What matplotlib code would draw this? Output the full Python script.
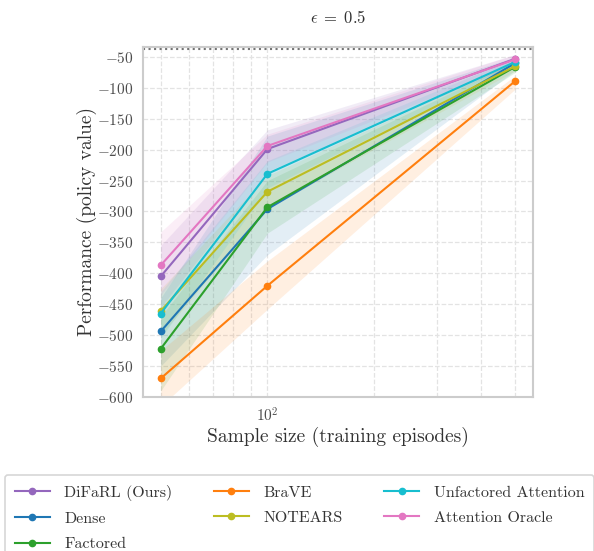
import matplotlib
matplotlib.use("Agg")
import matplotlib.pyplot as plt
import numpy as np

plt.rcParams['font.family'] = 'serif'
plt.rcParams['font.serif'] = ['cmr10', 'DejaVu Serif']
plt.rcParams['mathtext.fontset'] = 'cm'
plt.rcParams['axes.formatter.use_mathtext'] = True
plt.rcParams['axes.unicode_minus'] = True

# sample sizes (training episodes)
sizes = [50, 100, 500]
oracle_value = -38

names = ['DiFaRL (Ours)', 'Dense', 'Factored', 'BraVE', 'NOTEARS',
         'Unfactored Attention', 'Attention Oracle']
colors = ['#9467bd', '#1f77b4', '#2ca02c', '#ff7f0e', '#bcbd22', '#17becf', '#e377c2']

means = {
    'DiFaRL (Ours)':        [-405, -199, -53],
    'Dense':                [-494, -296, -60],
    'Factored':             [-522, -293, -66],
    'BraVE':                [-570, -420, -89],
    'NOTEARS':              [-461, -268, -65],
    'Unfactored Attention': [-465, -239, -58],
    'Attention Oracle':     [-387, -194, -54],
}
lower = {
    'DiFaRL (Ours)':        [-455, -235, -62],
    'Dense':                [-550, -370, -72],
    'Factored':             [-590, -335, -75],
    'BraVE':                [-615, -458, -102],
    'NOTEARS':              [-500, -295, -72],
    'Unfactored Attention': [-505, -262, -64],
    'Attention Oracle':     [-435, -220, -62],
}
upper = {
    'DiFaRL (Ours)':        [-355, -168, -46],
    'Dense':                [-440, -178, -50],
    'Factored':             [-470, -250, -58],
    'BraVE':                [-525, -380, -80],
    'NOTEARS':              [-425, -242, -58],
    'Unfactored Attention': [-430, -218, -52],
    'Attention Oracle':     [-333, -175, -46],
}

fig = plt.figure(figsize=(5.94, 5.51), dpi=100)
ax = fig.add_axes([143/594, 1 - 397/551, 390/594, 350/551])

for name, c in zip(names, colors):
    ax.fill_between(sizes, lower[name], upper[name], color=c, alpha=0.12, lw=0)
for name, c in zip(names, colors):
    ax.plot(sizes, means[name], color=c, marker='o', ms=4.5, lw=1.5, label=name)

ax.axhline(oracle_value, color='0.45', ls=':', lw=1.5)

ax.set_xscale('log')
ax.set_ylim(-600, -34)
ax.set_yticks(np.arange(-600, -49, 50))
ax.grid(True, which='both', ls='--', color='#e3e3e3', lw=0.9)
ax.set_axisbelow(True)
for s in ax.spines.values():
    s.set_color('#cccccc')
    s.set_linewidth(1.5)
ax.tick_params(which='both', length=0, labelsize=11, colors='0.3', pad=7)

ax.set_title(r'$\epsilon\;=\;0.5$', fontsize=12, color='0.2', pad=17)
ax.set_xlabel('Sample size (training episodes)', fontsize=14, color='0.2', labelpad=1)
ax.set_ylabel('Performance (policy value)', fontsize=14, color='0.2', labelpad=0)

leg = fig.legend(loc='upper left', bbox_to_anchor=(5/594, 1 - 475/551), ncol=3,
                 borderaxespad=0, borderpad=0.6, fontsize=11.5, frameon=True,
                 handlelength=2.2, columnspacing=2.6, labelspacing=0.7,
                 handletextpad=0.9)
leg.get_frame().set_edgecolor('#cccccc')
leg.get_frame().set_linewidth(1.2)
for t in leg.get_texts():
    t.set_color('0.2')

fig.savefig('out.png', dpi=100)
